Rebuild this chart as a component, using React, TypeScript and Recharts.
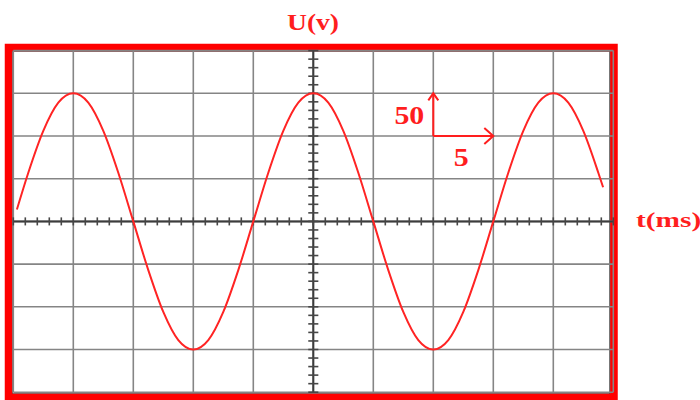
import React from 'react';
import { LineChart, Line, XAxis, YAxis, ReferenceLine, Customized } from 'recharts';

// Graticule: 5 ms per division horizontally, 50 V per division vertically
const timeGrid = [-25, -20, -15, -10, -5, 0, 5, 10, 15, 20, 25];
const voltGrid = [-200, -150, -100, -50, 0, 50, 100, 150, 200];

// Trace samples: time (ms) and voltage (V)
const timeMs = [
  -24.7, -23.75, -22.5, -21.25, -20, -18.75, -17.5, -16.25, -15, -13.75, -12.5, -11.25,
  -10, -8.75, -7.5, -6.25, -5, -3.75, -2.5, -1.25, 0, 1.25, 2.5, 3.75, 5, 6.25, 7.5, 8.75,
  10, 11.25, 12.5, 13.75, 15, 16.25, 17.5, 18.75, 20, 21.25, 22.5, 23.75, 24.15,
];
const voltageV = [
  14, 57, 106, 139, 150, 139, 106, 57, 0, -57, -106, -139,
  -150, -139, -106, -57, 0, 57, 106, 139, 150, 139, 106, 57, 0, -57, -106, -139,
  -150, -139, -106, -57, 0, 57, 106, 139, 150, 139, 106, 57, 40,
];

// Scale indicator arrows: one division in each direction
const timeArrow = [10, 15];
const voltArrow = [100, 150];
const timeArrowLabel = '5';
const voltArrowLabel = '50';
const yTitle = 'U(v)';
const xTitle = 't(ms)';

const data = timeMs.map((t, i) => ({ t, u: voltageV[i] }));

// Minor graticule marks on the centre lines: 5 per division
const minorTime = Array.from({ length: 51 }, (_, i) => -25 + i);
const minorVolt = Array.from({ length: 41 }, (_, i) => -200 + i * 10);

const W = 700;
const H = 400;
const MARGIN = { top: 50.6, right: 86.7, bottom: 7.8, left: 13.3 };
const RED = '#ff1e1e';

const StretchText = ({ x, y, size, sx, anchor, children }: any) => (
  <text
    transform={`translate(${x} ${y}) scale(${sx} 1)`}
    textAnchor={anchor}
    style={{ fontFamily: 'Liberation Serif, Times New Roman, serif', fontWeight: 700, fontSize: size }}
    fill={RED}
  >
    {children}
  </text>
);

const arrowShape = (label: string, head: number, half: number, kind: 'v' | 'h') => (p: any) => {
  const { x1, y1, x2, y2 } = p;
  const dx = x2 - x1;
  const dy = y2 - y1;
  const len = Math.hypot(dx, dy) || 1;
  const ux = dx / len;
  const uy = dy / len;
  const bx = x2 - ux * head;
  const by = y2 - uy * head;
  const nx = -uy * half;
  const ny = ux * half;
  return (
    <g>
      <line x1={x1} y1={y1} x2={x2} y2={y2} stroke={RED} strokeWidth={2} />
      <polyline
        points={`${bx + nx},${by + ny} ${x2},${y2} ${bx - nx},${by - ny}`}
        fill="none"
        stroke={RED}
        strokeWidth={2}
      />
      {kind === 'v' ? (
        <StretchText x={x2 - 9} y={y2 + 31} size={26} sx={1.15} anchor="end">
          {label}
        </StretchText>
      ) : (
        <StretchText x={(x1 + x2) / 2 - 2} y={y1 + 30} size={26} sx={1.15} anchor="middle">
          {label}
        </StretchText>
      )}
    </g>
  );
};

const Frame = () => {
  const left = MARGIN.left;
  const top = MARGIN.top;
  return (
    <g>
      <rect x={12} y={51} width={598} height={343} fill="none" stroke="#4a4a4a" strokeWidth={1.5} />
      <rect x={left - 4.8} y={top - 3.1} width={605.5} height={350} fill="none" stroke="#ff0000" strokeWidth={7.5} />
      <StretchText x={313} y={30} size={23} sx={1.2} anchor="middle">
        {yTitle}
      </StretchText>
      <StretchText x={636} y={227} size={21} sx={1.4} anchor="start">
        {xTitle}
      </StretchText>
    </g>
  );
};

export default function App() {
  return (
    <div style={{ position: 'absolute', left: 0, top: 0, width: W, height: H, background: '#fff' }}>
      <LineChart width={W} height={H} data={data} margin={MARGIN}>
        <XAxis dataKey="t" type="number" domain={[-25, 25]} hide allowDataOverflow />
        <YAxis type="number" domain={[-200, 200]} hide allowDataOverflow />
        {timeGrid.map((v) => (
          <ReferenceLine key={`gx${v}`} x={v} stroke="#858585" strokeWidth={1.6} />
        ))}
        {voltGrid.map((v) => (
          <ReferenceLine key={`gy${v}`} y={v} stroke="#858585" strokeWidth={1.6} />
        ))}
        <ReferenceLine x={0} stroke="#3c3c3c" strokeWidth={2} />
        <ReferenceLine y={0} stroke="#3c3c3c" strokeWidth={2} />
        {minorTime.map((t) => (
          <ReferenceLine
            key={`mt${t}`}
            segment={[{ x: t, y: -4.7 }, { x: t, y: 4.7 }]}
            stroke="#474747"
            strokeWidth={1.6}
          />
        ))}
        {minorVolt.map((v) => (
          <ReferenceLine
            key={`mv${v}`}
            segment={[{ x: -0.42, y: v }, { x: 0.42, y: v }]}
            stroke="#474747"
            strokeWidth={1.6}
          />
        ))}
        <Line
          dataKey="u"
          type="monotone"
          stroke="#ff2424"
          strokeWidth={2}
          dot={false}
          isAnimationActive={false}
        />
        <ReferenceLine
          segment={[{ x: timeArrow[0], y: voltArrow[0] }, { x: timeArrow[0], y: voltArrow[1] }]}
          shape={arrowShape(voltArrowLabel, 7, 5, 'v')}
        />
        <ReferenceLine
          segment={[{ x: timeArrow[0], y: voltArrow[0] }, { x: timeArrow[1], y: voltArrow[0] }]}
          shape={arrowShape(timeArrowLabel, 9, 8, 'h')}
        />
        <Customized component={Frame} />
      </LineChart>
    </div>
  );
}
